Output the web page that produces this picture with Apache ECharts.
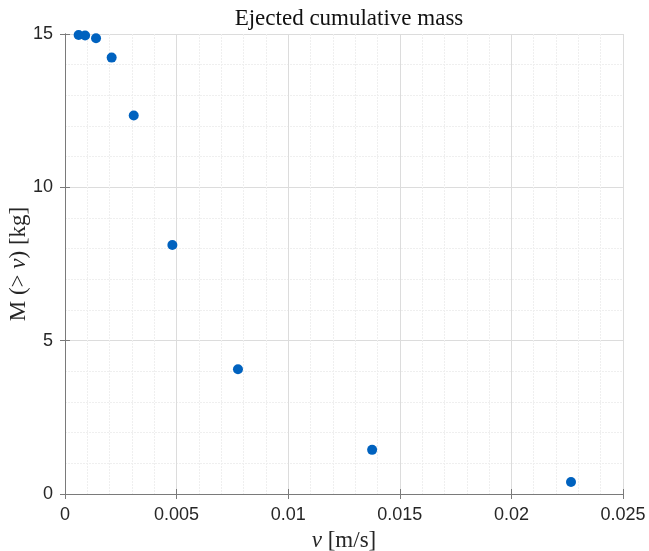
<!DOCTYPE html>
<html>
<head>
<meta charset="utf-8">
<script src="https://cdn.jsdelivr.net/npm/echarts@6/dist/echarts.min.js"></script>
<style>
  html, body { margin: 0; padding: 0; background: #fff; }
  #chart { width: 649px; height: 551px; }
</style>
</head>
<body>
<div id="chart"></div>
<script>
// Ejection speed v [m/s] and cumulative mass above that speed M(>v) [kg]
const speeds = [0.00061, 0.0009, 0.00139, 0.00209, 0.00308, 0.00481, 0.00775, 0.01376, 0.02267];
const cumulativeMass = [14.97, 14.95, 14.86, 14.23, 12.34, 8.12, 4.07, 1.44, 0.39];
const xTicks = [0, 0.005, 0.01, 0.015, 0.02, 0.025];
const yTicks = [0, 5, 10, 15];

const points = speeds.map((v, i) => [v, cumulativeMass[i]]);

const serif = '"Liberation Serif", "DejaVu Serif", serif';
const sans = '"Liberation Sans", Arial, sans-serif';
const axisColor = '#7a7a7a';

function frameAxis(extra) {
  return Object.assign({
    type: 'value',
    axisLine: { show: true, lineStyle: { color: axisColor, width: 1 } },
    axisTick: { show: true, inside: true, length: 5, lineStyle: { color: axisColor } },
    axisLabel: { show: false },
    splitLine: { show: false },
    minorSplitLine: { show: false }
  }, extra);
}

const chart = echarts.init(document.getElementById('chart'), null, { renderer: 'canvas' });
chart.setOption({
  animation: false,
  backgroundColor: '#ffffff',
  title: {
    text: 'Ejected cumulative mass',
    left: 344,
    textAlign: 'center',
    top: 2,
    textStyle: { fontFamily: serif, fontWeight: 'normal', fontSize: 23, color: '#111111' }
  },
  grid: { left: 65, right: 26, top: 34, bottom: 57, containLabel: false, outerBoundsMode: 'none' },
  xAxis: [
    {
      type: 'value',
      min: xTicks[0],
      max: xTicks[xTicks.length - 1],
      interval: xTicks[1] - xTicks[0],
      position: 'bottom',
      name: '{it|v} [m/s]',
      nameLocation: 'middle',
      nameGap: 35,
      nameMoveOverlap: false,
      nameTextStyle: {
        fontFamily: serif, fontSize: 23, color: '#262626',
        rich: { it: { fontFamily: serif, fontStyle: 'italic', fontSize: 23, color: '#262626' } }
      },
      axisLine: { show: true, lineStyle: { color: axisColor, width: 1 } },
      axisTick: { show: true, inside: true, length: 5, lineStyle: { color: axisColor } },
      axisLabel: {
        margin: 12, fontFamily: sans, fontSize: 18, color: '#262626',
        formatter: v => String(+v.toFixed(3))
      },
      splitLine: { show: true, lineStyle: { color: '#dcdcdc', width: 1 } },
      minorTick: { show: false, splitNumber: 5 },
      minorSplitLine: { show: true, lineStyle: { color: '#efefef', width: 1, type: [2, 1] } }
    },
    frameAxis({
      min: xTicks[0],
      max: xTicks[xTicks.length - 1],
      interval: xTicks[1] - xTicks[0],
      position: 'top'
    })
  ],
  yAxis: [
    {
      type: 'value',
      min: yTicks[0],
      max: yTicks[yTicks.length - 1],
      interval: yTicks[1] - yTicks[0],
      position: 'left',
      name: 'M (> {it|v}) [kg]',
      nameLocation: 'middle',
      nameGap: 35,
      nameMoveOverlap: false,
      nameTextStyle: {
        fontFamily: serif, fontSize: 23, color: '#262626',
        rich: { it: { fontFamily: serif, fontStyle: 'italic', fontSize: 23, color: '#262626' } }
      },
      axisLine: { show: true, lineStyle: { color: axisColor, width: 1 } },
      axisTick: { show: true, inside: true, length: 5, lineStyle: { color: axisColor } },
      axisLabel: { margin: 12, fontFamily: sans, fontSize: 18, color: '#262626' },
      splitLine: { show: true, lineStyle: { color: '#dcdcdc', width: 1 } },
      minorTick: { show: false, splitNumber: 5 },
      minorSplitLine: { show: true, lineStyle: { color: '#efefef', width: 1, type: [2, 1] } }
    },
    frameAxis({
      min: yTicks[0],
      max: yTicks[yTicks.length - 1],
      interval: yTicks[1] - yTicks[0],
      position: 'right'
    })
  ],
  series: [
    {
      type: 'scatter',
      xAxisIndex: 0,
      yAxisIndex: 0,
      data: points,
      symbol: 'circle',
      symbolSize: 10,
      clip: false,
      itemStyle: { color: '#0062bf', opacity: 1 }
    }
  ]
});
</script>
</body>
</html>
